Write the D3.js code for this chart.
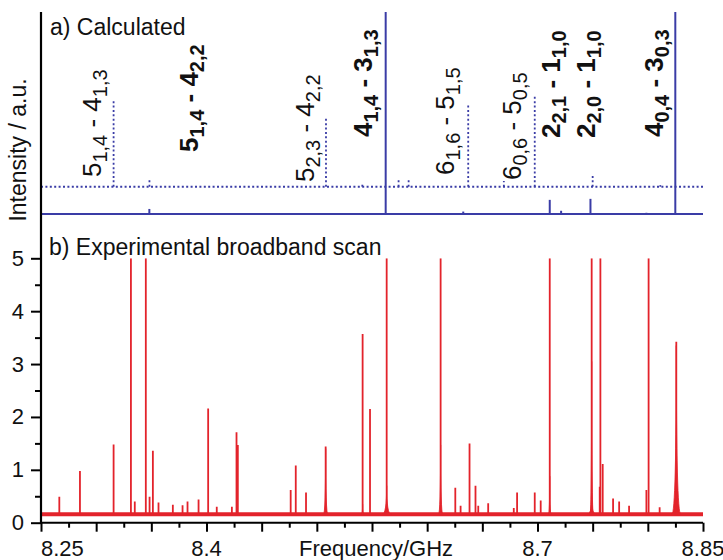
<!DOCTYPE html>
<html><head><meta charset="utf-8">
<script src="https://cdn.jsdelivr.net/npm/d3@7"></script>
<style>html,body{margin:0;padding:0;background:#fff;}svg{display:block;font-family:"Liberation Sans",Arial,sans-serif;}</style>
</head><body>
<script>
// ---- Data ----
// a) Calculated: solid series (stick spectrum)
const calcSolidFreq = [8.3013, 8.3482, 8.3647, 8.4057, 8.4537, 8.5222, 8.5624, 8.6092, 8.6327, 8.6897, 8.7111, 8.7214, 8.7480, 8.7987, 8.8249];
const calcSolidInt  = [0.5, 2.5, 0.3, 0.5, 0.3, 0.3, 100, 0.4, 1.2, 0.4, 7, 1.6, 7.5, 0.6, 100];
// a) Calculated: dotted series (offset)
const calcDotFreq = [8.3158, 8.3483, 8.5083, 8.5412, 8.5741, 8.5832, 8.6372, 8.6695, 8.6975, 8.7500, 8.8113];
const calcDotInt  = [43.4, 4.3, 34.5, 1.0, 3.3, 3.6, 40.4, 2.8, 44.9, 6.1, 0.8];
const dotOffset = 13.5;
// Transition labels
const labelUpper    = ["5", "5", "5", "4", "6", "6", "2", "2", "4"];
const labelUpperSub = ["1,4", "1,4", "2,3", "1,4", "1,6", "0,6", "2,1", "2,0", "0,4"];
const labelLower    = ["4", "4", "4", "3", "5", "5", "1", "1", "3"];
const labelLowerSub = ["1,3", "2,2", "2,2", "1,3", "1,5", "0,5", "1,0", "1,0", "0,3"];
const labelBold     = [false, true, false, true, false, false, true, true, true];
// label anchor (frequency, intensity units of panel a)
const labelFreq = [8.3043, 8.3921, 8.4972, 8.5497, 8.6239, 8.6846, 8.7208, 8.7525, 8.8141];
const labelPos  = [18.3, 30.7, 15.8, 38.1, 19.3, 16.8, 37.6, 37.6, 38.1];
// b) Experimental broadband scan: peak positions & heights
const expFreq = [8.2666, 8.2853, 8.3158, 8.3315, 8.3350, 8.3450, 8.3484, 8.3514, 8.3565, 8.3695, 8.3783, 8.3828, 8.3928, 8.4015, 8.4093, 8.4230, 8.4272, 8.4284, 8.4763, 8.4809, 8.4902, 8.5080, 8.5415, 8.5482, 8.5633, 8.6122, 8.6255, 8.6303, 8.6384, 8.6438, 8.6463, 8.6553, 8.6785, 8.6815, 8.6975, 8.7029, 8.7111, 8.7491, 8.7564, 8.7570, 8.7591, 8.7685, 8.7740, 8.7830, 8.7987, 8.8007, 8.8107, 8.8258];
const expInt  = [0.49, 0.98, 1.48, 5, 0.40, 5, 0.49, 1.36, 0.38, 0.34, 0.33, 0.40, 0.44, 2.16, 0.30, 0.30, 1.71, 1.47, 0.62, 1.08, 0.57, 1.44, 3.57, 2.15, 5, 5, 0.66, 0.32, 1.50, 0.70, 0.32, 0.37, 0.28, 0.57, 0.57, 0.42, 5, 5, 0.68, 5, 1.11, 0.46, 0.40, 0.32, 0.62, 5, 0.29, 3.42];
// broad line skirts
const skirtFreq  = [8.5080, 8.5415, 8.5633, 8.6122, 8.7111, 8.7491, 8.7491, 8.8258];
const skirtInt   = [1.40, 0.35, 0.70, 1.47, 0.88, 3.05, 0.45, 3.35];
const skirtWidth = [0.0020, 0.0012, 0.0040, 0.0020, 0.0012, 0.0015, 0.0040, 0.0040];
const expBaseline = 0.16;
// axis ticks
const xTickLabels = [8.25, 8.4, 8.7, 8.85];
const yTickLabels = [0, 1, 2, 3, 4, 5];

// ---- Layout ----
const W = 723, H = 560;
const svg = d3.select("body").append("svg").attr("width", W).attr("height", H);
const blue = "#3a3ca6", red = "#e3232b";

const x = d3.scaleLinear().domain([8.25, 8.85]).range([41, 703]);
const yTop = d3.scaleLinear().domain([0, 100]).range([214, 12]);
const yBot = d3.scaleLinear().domain([0, 5]).range([522.7, 258.3]);

const defs = svg.append("defs");
defs.append("clipPath").attr("id", "clipTop").append("rect")
  .attr("x", 41).attr("y", yTop(100)).attr("width", x(8.85) - 41).attr("height", yTop(0) - yTop(100) + 2);
defs.append("clipPath").attr("id", "clipBot").append("rect")
  .attr("x", 41).attr("y", yBot(5)).attr("width", x(8.85) - 41).attr("height", yBot(0) - yBot(5));

// ---- Panel a ----
const gA = svg.append("g").attr("clip-path", "url(#clipTop)");
gA.append("line").attr("x1", x(8.25)).attr("x2", x(8.85)).attr("y1", yTop(0)).attr("y2", yTop(0))
  .attr("stroke", blue).attr("stroke-width", 2);
gA.selectAll("line.solid").data(calcSolidFreq).join("line").attr("class", "solid")
  .attr("x1", d => x(d)).attr("x2", d => x(d))
  .attr("y1", yTop(0)).attr("y2", (d, i) => yTop(calcSolidInt[i]))
  .attr("stroke", blue).attr("stroke-width", 2);
gA.append("line").attr("x1", x(8.25)).attr("x2", x(8.85)).attr("y1", yTop(dotOffset)).attr("y2", yTop(dotOffset))
  .attr("stroke", blue).attr("stroke-width", 1.8).attr("stroke-dasharray", "2,2.4");
gA.selectAll("line.dot").data(calcDotFreq).join("line").attr("class", "dot")
  .attr("x1", d => x(d)).attr("x2", d => x(d))
  .attr("y1", yTop(dotOffset)).attr("y2", (d, i) => yTop(dotOffset + calcDotInt[i]))
  .attr("stroke", blue).attr("stroke-width", 1.8).attr("stroke-dasharray", "2,2.4");

// labels
const lab = svg.append("g");
labelFreq.forEach((f, i) => {
  const t = lab.append("text")
    .attr("transform", `translate(${x(f)},${yTop(labelPos[i])}) rotate(-90)`)
    .attr("font-size", 26).attr("font-weight", labelBold[i] ? "bold" : "normal").attr("fill", "#111");
  t.append("tspan").text(labelUpper[i]);
  t.append("tspan").attr("font-size", 20).attr("dy", 6).text(labelUpperSub[i]);
  t.append("tspan").attr("dy", -6).text(" - " + labelLower[i]);
  t.append("tspan").attr("font-size", 20).attr("dy", 6).text(labelLowerSub[i]);
});

svg.append("text").attr("x", 50).attr("y", 35).attr("font-size", 23).attr("fill", "#111").text("a) Calculated");
svg.append("text").attr("transform", "translate(26,150) rotate(-90)").attr("text-anchor", "middle")
  .attr("font-size", 23).attr("fill", "#111").text("Intensity / a.u.");

// ---- Panel b ----
const gB = svg.append("g").attr("clip-path", "url(#clipBot)");
gB.append("line").attr("x1", x(8.25)).attr("x2", x(8.85)).attr("y1", yBot(expBaseline)).attr("y2", yBot(expBaseline))
  .attr("stroke", red).attr("stroke-width", 4);
gB.selectAll("path.skirt").data(skirtFreq).join("path").attr("class", "skirt")
  .attr("d", (f, i) => {
    const b = yBot(expBaseline), h = yBot(skirtInt[i]);
    const l = x(f - skirtWidth[i]), r = x(f + skirtWidth[i]), c = x(f);
    return `M${l},${b} Q${c},${b} ${c},${h} Q${c},${b} ${r},${b} Z`;
  })
  .attr("fill", red).attr("stroke", red).attr("stroke-width", 0.8);
gB.selectAll("line.peak").data(expFreq).join("line").attr("class", "peak")
  .attr("x1", d => x(d)).attr("x2", d => x(d))
  .attr("y1", yBot(expBaseline)).attr("y2", (d, i) => yBot(expInt[i]))
  .attr("stroke", red).attr("stroke-width", 1.8);

svg.append("text").attr("x", 49).attr("y", 255).attr("font-size", 23).attr("fill", "#111").text("b) Experimental broadband scan");

// ---- Axes ----
const xAxis = d3.axisBottom(x).tickValues(d3.range(8.25, 8.8501, 0.05)).tickSize(9).tickFormat("");
const gx = svg.append("g").attr("transform", `translate(0,${yBot(0)})`).call(xAxis);
const xMinor = d3.axisBottom(x).tickValues(d3.range(8.275, 8.85, 0.05)).tickSize(5).tickFormat("");
svg.append("g").attr("transform", `translate(0,${yBot(0)})`).call(xMinor).call(g => g.select(".domain").remove());
gx.select(".domain").attr("d", `M${x(8.25)},0H${x(8.85)}`);
svg.selectAll(".tick line").attr("stroke", "#000").attr("stroke-width", 2);
gx.select(".domain").attr("stroke", "#000").attr("stroke-width", 2);

const xl = svg.append("g");
xl.selectAll("text").data(xTickLabels).join("text")
  .attr("x", d => x(d)).attr("y", 556)
  .attr("text-anchor", (d, i) => i === 0 ? "start" : "middle")
  .attr("font-size", 22).attr("fill", "#111").text(d => d3.format("")(d));
svg.append("text").attr("x", 376).attr("y", 556).attr("text-anchor", "middle")
  .attr("font-size", 22).attr("fill", "#111").text("Frequency/GHz");

const yAxis = d3.axisLeft(yBot).tickValues(yTickLabels).tickSize(10).tickPadding(7).tickFormat(d3.format("d"));
const gy = svg.append("g").attr("transform", `translate(41,0)`).call(yAxis);
gy.select(".domain").remove();
gy.selectAll(".tick line").attr("stroke", "#000").attr("stroke-width", 2);
gy.selectAll(".tick text").attr("font-size", 22).attr("fill", "#111").attr("font-family", "Liberation Sans, Arial, sans-serif");
const yMinor = d3.axisLeft(yBot).tickValues([0.5, 1.5, 2.5, 3.5, 4.5]).tickSize(6).tickFormat("");
const gym = svg.append("g").attr("transform", `translate(41,0)`).call(yMinor);
gym.select(".domain").remove();
gym.selectAll(".tick line").attr("stroke", "#000").attr("stroke-width", 2);
svg.append("line").attr("x1", 41).attr("x2", 41).attr("y1", yTop(100)).attr("y2", yBot(0) + 1)
  .attr("stroke", "#000").attr("stroke-width", 2.2);
</script>
</body></html>
